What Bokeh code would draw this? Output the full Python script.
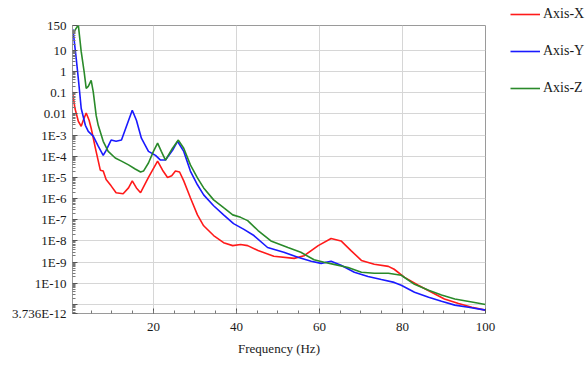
from bokeh.plotting import figure
from bokeh.models import FixedTicker, Legend, LegendItem, Range1d
from bokeh.embed import file_html
from bokeh.resources import INLINE

# ---- data ----
x_red = [0.5, 1.1, 1.9, 2.6, 3.1, 3.8, 4.5, 5.0, 6.0, 7.2, 7.9, 8.6, 9.8, 11.0, 12.7, 14.0, 14.9, 15.9,
         16.9, 18.8, 21.0, 22.2, 23.4, 24.4, 25.3, 26.3, 27.3, 28.9, 30.6, 32.1, 34.5, 36.9, 39.1, 41.0,
         42.7, 45.2, 49.0, 53.9, 56.3, 59.7, 62.8, 65.2, 67.6, 70.1, 73.2, 76.6, 78.0, 80.5, 83.8, 87.0,
         90.1, 93.5, 96.7, 100.0]
y_red = [1.1e-1, 1.8e-2, 4.5e-3, 2.6e-3, 5.0e-3, 1.1e-2, 5.0e-3, 2.1e-3, 2.5e-4, 2.2e-5, 2.0e-5, 7.9e-6,
         4.0e-6, 1.9e-6, 1.7e-6, 3.2e-6, 6.9e-6, 3.2e-6, 1.9e-6, 1.0e-5, 5.9e-5, 2.2e-5, 1.0e-5, 1.2e-5,
         2.0e-5, 1.8e-5, 6.9e-6, 1.1e-6, 1.7e-7, 5.2e-8, 1.8e-8, 8.3e-9, 6.0e-9, 6.8e-9, 6.0e-9, 3.5e-9,
         1.9e-9, 1.5e-9, 2.0e-9, 6.0e-9, 1.3e-8, 1.0e-8, 3.5e-9, 1.2e-9, 7.9e-10, 6.3e-10, 4.6e-10,
         1.9e-10, 8.1e-11, 3.8e-11, 1.8e-11, 1.1e-11, 7.4e-12, 5.4e-12]

x_blue = [0.6, 1.4, 1.9, 2.3, 2.6, 3.6, 4.3, 5.5, 6.7, 7.9, 8.6, 9.8, 11.0, 12.3, 13.5, 14.9, 15.9, 17.1,
          18.8, 20.5, 21.7, 22.9, 24.6, 25.8, 27.3, 28.9, 30.6, 32.1, 34.5, 36.9, 39.3, 41.8, 44.2, 47.5,
          51.4, 54.8, 58.0, 60.4, 62.8, 65.2, 68.4, 71.7, 74.9, 78.0, 79.7, 82.9, 86.3, 89.4, 92.6, 95.9,
          100.0]
y_blue = [1.0e2, 4.1, 4.7e-1, 7.4e-2, 1.8e-2, 2.9e-3, 1.5e-3, 8.9e-4, 3.0e-4, 1.1e-4, 1.9e-4, 5.8e-4,
          5.1e-4, 5.8e-4, 2.6e-3, 1.5e-2, 5.0e-3, 7.1e-4, 1.7e-4, 1.1e-4, 6.6e-5, 6.6e-5, 1.9e-4, 5.1e-4,
          1.7e-4, 2.0e-5, 4.5e-6, 1.5e-6, 4.6e-7, 1.7e-7, 6.6e-8, 3.5e-8, 1.8e-8, 4.9e-9, 2.9e-9, 1.7e-9,
          1.1e-9, 8.7e-10, 1.1e-9, 7.1e-10, 3.3e-10, 2.1e-10, 1.5e-10, 1.1e-10, 8.1e-11, 3.8e-11, 2.2e-11,
          1.4e-11, 9.3e-12, 7.4e-12, 5.4e-12]

x_green = [1.0, 1.9, 2.6, 3.3, 3.8, 4.3, 5.0, 5.5, 6.2, 6.7, 7.9, 9.1, 10.8, 12.3, 14.0, 15.6, 16.9, 17.6,
           18.8, 20.0, 21.0, 21.9, 22.9, 24.6, 26.0, 27.3, 28.9, 30.6, 32.1, 34.5, 36.9, 39.1, 41.0, 42.7,
           45.2, 48.3, 52.4, 55.5, 58.7, 61.1, 63.5, 66.9, 70.1, 73.2, 76.6, 79.7, 82.9, 86.3, 89.4, 92.6,
           96.7, 100.0]
y_green = [8.3e1, 1.6e2, 8.7, 1.0, 1.6e-1, 2.0e-1, 3.8e-1, 1.1e-1, 8.5e-3, 2.9e-3, 5.1e-4, 1.7e-4, 8.3e-5,
           5.9e-5, 3.9e-5, 2.5e-5, 1.8e-5, 2.0e-5, 4.8e-5, 1.7e-4, 4.2e-4, 1.7e-4, 6.6e-5, 2.4e-4, 5.8e-4,
           2.4e-4, 3.9e-5, 9.5e-6, 3.2e-6, 8.7e-7, 3.7e-7, 1.7e-7, 1.3e-7, 9.1e-8, 3.1e-8, 1.0e-8, 4.9e-9,
           2.9e-9, 1.3e-9, 9.8e-10, 7.8e-10, 5.6e-10, 3.3e-10, 3.0e-10, 3.0e-10, 2.4e-10, 8.9e-11, 4.7e-11,
           2.8e-11, 1.8e-11, 1.3e-11, 1.0e-11]

series_names = ["Axis-X", "Axis-Y", "Axis-Z"]
series_colors = ["#ff1a1a", "#1a1aff", "#2a8a2a"]

x_ticks = [20, 40, 60, 80, 100]
x_tick_labels = ["20", "40", "60", "80", "100"]
y_ticks = [3.736e-12, 1e-11, 1e-10, 1e-9, 1e-8, 1e-7, 1e-6, 1e-5, 1e-4, 1e-3, 1e-2, 1e-1, 1, 10, 150]
y_tick_labels = ["3.736E-12", "", "1E-10", "1E-9", "1E-8", "1E-7", "1E-6", "1E-5", "1E-4", "1E-3",
                 "0.01", "0.1", "1", "10", "150"]
y_min, y_max = 3.736e-12, 150.0
x_min, x_max = 0.5, 100.0

SERIF = "Liberation Serif"

p = figure(output_backend="svg", toolbar_location=None, y_axis_type="log",
           frame_width=413, frame_height=288,
           min_border_left=72, min_border_right=102, min_border_top=25, min_border_bottom=52,
           x_range=Range1d(x_min, x_max), y_range=Range1d(y_min, y_max),
           background_fill_color="white", border_fill_color="white")

p.outline_line_color = "#9a9a9a"
p.outline_line_width = 1

renderers = []
for xs, ys, c in zip([x_red, x_blue, x_green], [y_red, y_blue, y_green], series_colors):
    renderers.append(p.line(xs, ys, line_color=c, line_width=1.6))

# axes
minor_y = []
for e in range(-12, 3):
    for k in range(2, 10):
        v = k * 10.0 ** e
        if y_min < v < y_max:
            minor_y.append(v)
p.yaxis.ticker = FixedTicker(ticks=y_ticks, minor_ticks=minor_y)
p.yaxis.major_label_overrides = {t: l for t, l in zip(y_ticks, y_tick_labels)}
p.xaxis.ticker = FixedTicker(ticks=x_ticks, minor_ticks=list(range(5, 100, 5)))
p.xaxis.major_label_overrides = {t: l for t, l in zip(x_ticks, x_tick_labels)}

for ax in (p.xaxis, p.yaxis):
    ax.axis_line_color = "#9a9a9a"
    ax.major_tick_in = 5
    ax.major_tick_out = 0
    ax.minor_tick_in = 3
    ax.minor_tick_out = 0
    ax.major_tick_line_color = "#555555"
    ax.minor_tick_line_color = "#777777"
    ax.major_label_text_font = SERIF
    ax.major_label_text_font_size = "13px"
    ax.major_label_text_color = "#1a1a1a"
    ax.axis_label_text_font = SERIF
    ax.axis_label_text_font_style = "normal"
    ax.axis_label_text_font_size = "13px"
    ax.axis_label_text_color = "#1a1a1a"

p.yaxis.major_label_standoff = 6
p.xaxis.major_label_standoff = 9
p.xaxis.axis_label = "Frequency (Hz)"
p.xaxis.axis_label_standoff = 7

p.xgrid.ticker = FixedTicker(ticks=[20, 40, 60, 80])
p.ygrid.ticker = FixedTicker(ticks=y_ticks)
p.xgrid.grid_line_color = "#d6d6d6"
p.ygrid.grid_line_color = "#d6d6d6"

legend = Legend(items=[LegendItem(label=n, renderers=[r]) for n, r in zip(series_names, renderers)],
                location=(25, 215), orientation="vertical",
                border_line_color=None, background_fill_alpha=0,
                padding=0, margin=0, spacing=17,
                glyph_width=30, glyph_height=20, label_height=20, label_standoff=3,
                label_text_font=SERIF, label_text_font_size="14px", label_text_color="#1a1a1a")
p.add_layout(legend, "right")

open("out.html", "w").write(file_html(p, INLINE))
